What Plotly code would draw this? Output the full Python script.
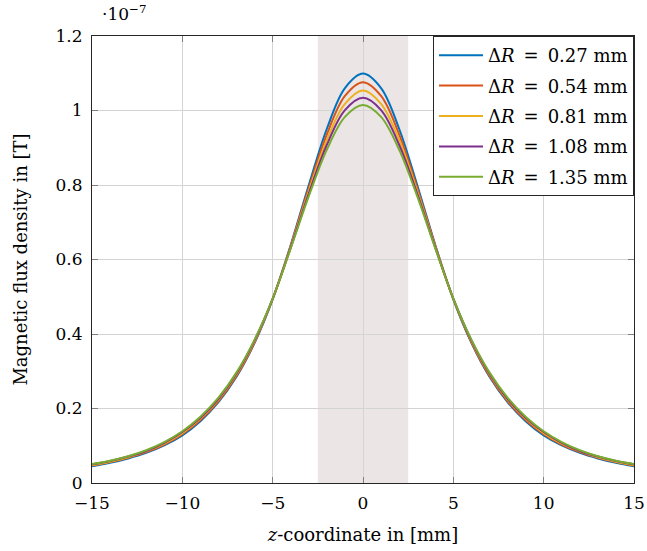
import plotly.graph_objects as go

z_mm = [-15, -14, -13, -12, -11, -10, -9, -8, -7, -6, -5, -4, -3, -2, -1, 0,
        1, 2, 3, 4, 5, 6, 7, 8, 9, 10, 11, 12, 13, 14, 15]

# magnetic flux density in units of 1e-7 T
b_027 = [0.045, 0.054, 0.066, 0.081, 0.101, 0.128, 0.166, 0.217, 0.285, 0.376, 0.493,
         0.639, 0.800, 0.951, 1.060, 1.099, 1.060, 0.951, 0.800, 0.639, 0.493,
         0.376, 0.285, 0.217, 0.166, 0.128, 0.101, 0.081, 0.066, 0.054, 0.045]
b_054 = [0.047, 0.056, 0.068, 0.083, 0.103, 0.131, 0.169, 0.220, 0.288, 0.378, 0.494,
         0.637, 0.792, 0.936, 1.039, 1.076, 1.039, 0.936, 0.792, 0.637, 0.494,
         0.378, 0.288, 0.220, 0.169, 0.131, 0.103, 0.083, 0.068, 0.056, 0.047]
b_081 = [0.048, 0.057, 0.069, 0.085, 0.106, 0.134, 0.173, 0.224, 0.292, 0.381, 0.494,
         0.634, 0.784, 0.921, 1.018, 1.054, 1.018, 0.921, 0.784, 0.634, 0.494,
         0.381, 0.292, 0.224, 0.173, 0.134, 0.106, 0.085, 0.069, 0.057, 0.048]
b_108 = [0.050, 0.059, 0.071, 0.086, 0.108, 0.137, 0.175, 0.226, 0.294, 0.383, 0.495,
         0.632, 0.777, 0.908, 1.001, 1.034, 1.001, 0.908, 0.777, 0.632, 0.495,
         0.383, 0.294, 0.226, 0.175, 0.137, 0.108, 0.086, 0.071, 0.059, 0.050]
b_135 = [0.051, 0.060, 0.072, 0.088, 0.110, 0.139, 0.178, 0.229, 0.297, 0.385, 0.495,
         0.630, 0.770, 0.895, 0.983, 1.015, 0.983, 0.895, 0.770, 0.630, 0.495,
         0.385, 0.297, 0.229, 0.178, 0.139, 0.110, 0.088, 0.072, 0.060, 0.051]

series_labels = ["0.27", "0.54", "0.81", "1.08", "1.35"]
series_values = [b_027, b_054, b_081, b_108, b_135]
colors = ["#0072BD", "#D95319", "#EDB120", "#7E2F8E", "#77AC30"]

coil_start, coil_end = -2.5, 2.5

FONT = "DejaVu Serif"

fig = go.Figure()
for i, (lab, vals, col) in enumerate(zip(series_labels, series_values, colors)):
    fig.add_trace(go.Scatter(
        x=z_mm, y=vals, mode="lines",
        line=dict(color=col, width=2, shape="spline", smoothing=1.0),
        name=f"Δ<i>R</i>\u2002=\u2002{lab} mm",
        legendgroup=f"g{i}",
    ))

fig.add_shape(type="rect", xref="x", yref="paper", x0=coil_start, x1=coil_end,
              y0=0, y1=1, fillcolor="#ebe5e5", line_width=0, layer="below")

fig.add_annotation(xref="paper", yref="paper", x=0.015, y=1.0, yshift=10,
                   xanchor="left", yanchor="bottom", showarrow=False,
                   text="·10<sup>−7</sup>", font=dict(family=FONT, size=17, color="black"))

axis_common = dict(
    showgrid=True, gridcolor="#d4d4d4", gridwidth=1,
    showline=True, linecolor="#262626", linewidth=1.2, mirror="ticks",
    ticks="inside", ticklen=6, tickcolor="#808080", tickwidth=1,
    zeroline=False, automargin=False,
    tickfont=dict(family=FONT, size=17, color="black"),
)

fig.update_xaxes(range=[-15, 15], dtick=5, tick0=0, ticklabelstandoff=4,
                 title=dict(text="<i>z</i>-coordinate in [mm]",
                            font=dict(family=FONT, size=18, color="black"), standoff=16),
                 **axis_common)
fig.update_yaxes(range=[0, 1.2], dtick=0.2, tick0=0, ticklabelstandoff=5,
                 title=dict(text="Magnetic flux density in [T]",
                            font=dict(family=FONT, size=18, color="black"), standoff=23),
                 **axis_common)

fig.update_layout(
    width=647, height=551,
    margin=dict(l=92, r=13, t=36, b=68, autoexpand=False),
    plot_bgcolor="white", paper_bgcolor="white",
    showlegend=True,
    legend=dict(x=1, y=1, xanchor="right", yanchor="top",
                bgcolor="white", bordercolor="#262626", borderwidth=1,
                font=dict(family=FONT, size=18, color="black"),
                tracegroupgap=4, itemwidth=44),
)

fig.write_html("out.html")
